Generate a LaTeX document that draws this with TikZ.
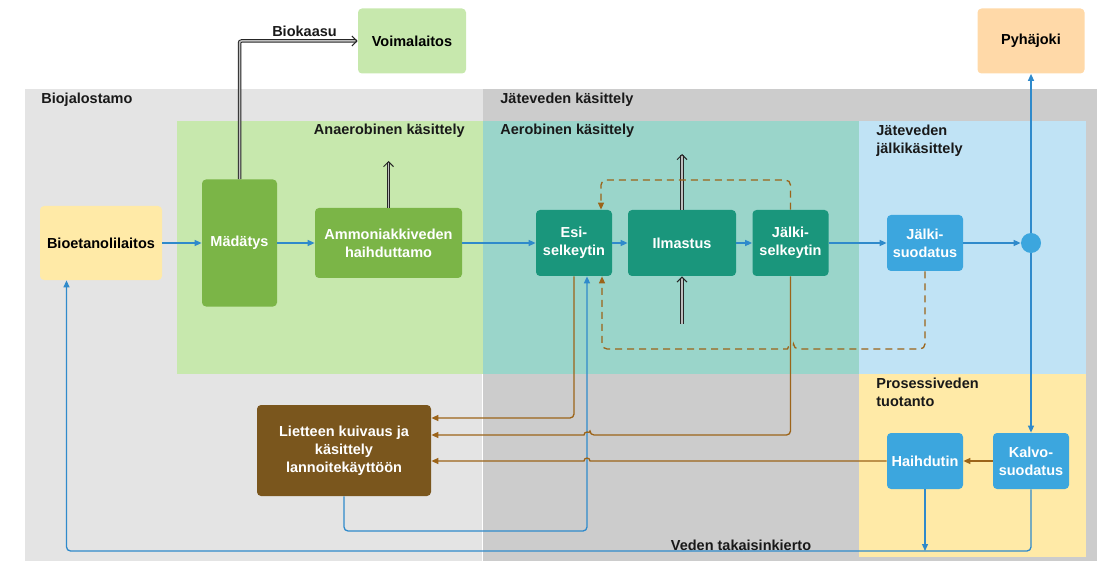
\documentclass[tikz,border=0pt]{standalone}
\usepackage{fontspec}
\setmainfont{Liberation Sans}
\usetikzlibrary{arrows.meta}

\definecolor{zoneGray}{HTML}{E4E4E4}
\definecolor{zoneDark}{HTML}{CCCCCC}
\definecolor{zoneGreen}{HTML}{C7E8AD}
\definecolor{zoneTeal}{HTML}{9AD5CA}
\definecolor{zoneBlue}{HTML}{C0E3F5}
\definecolor{zoneYellow}{HTML}{FFEAA7}
\definecolor{boxGreen}{HTML}{7BB547}
\definecolor{boxTeal}{HTML}{1A967C}
\definecolor{boxBlue}{HTML}{3CA6DE}
\definecolor{boxBrown}{HTML}{7A561D}
\definecolor{boxOrange}{HTML}{FFD9A8}
\definecolor{flowBlue}{HTML}{2F8ACB}
\definecolor{flowBrown}{HTML}{9C6419}

\tikzset{every picture/.style={line width=0.75pt}}

\begin{document}
\begin{tikzpicture}[x=1pt,y=1pt,yscale=-1,xscale=1,
  font=\fontsize{14.5}{18}\selectfont\bfseries,
  unit/.style={rounded corners=4pt, align=center, inner sep=2pt, text=white},
  zonelabel/.style={inner sep=0pt, align=left, text=black!90},
  water/.style={draw=flowBlue, line width=1.3pt, -{Triangle[length=7pt,width=6pt]}},
  sludge/.style={draw=flowBrown, line width=1.3pt, -{Triangle[length=7pt,width=6pt]}},
  gas/.style={draw=black!85, double=black!25, double distance=1.5pt, line width=1pt, -{Straight Barb[length=5pt,width=10pt]}}]
	\useasboundingbox (0,0) rectangle (1097,561);

	%Zones
	\fill [zoneGray] (25,89) rectangle (483,561);
	\fill [zoneDark] (483,89) rectangle (1097,561);
	\fill [zoneGreen] (177,121) rectangle (483,374);
	\fill [zoneTeal] (483,121) rectangle (859,374);
	\fill [zoneBlue] (859,121) rectangle (1086,374);
	\fill [zoneYellow] (859,374) rectangle (1086,557);
	\draw [white, line width=1.5pt] (482.5,374) -- (482.5,561);

	% Text Node
	\node [zonelabel, anchor=west] (tBiojal) at (41,100) {Biojalostamo};
	\node [zonelabel, anchor=west] (tJatev) at (500,100) {Jäteveden käsittely};
	\node [zonelabel, anchor=east] (tAnaer) at (465,131) {Anaerobinen käsittely};
	\node [zonelabel, anchor=west] (tAerob) at (500,131) {Aerobinen käsittely};
	\node [zonelabel, anchor=north west] (tJalkik) at (876,125) {Jäteveden\\jälkikäsittely};
	\node [zonelabel, anchor=north west] (tProsess) at (876,378) {Prosessiveden\\tuotanto};
	\node [zonelabel] (tBiokaasu) at (304.5,31) {Biokaasu};
	\node [zonelabel] (tKierto) at (741,545) {Veden takaisinkierto};

	% Units
	\node [unit, fill=zoneGreen, text=black, minimum width=108pt, minimum height=65pt] (voima) at (412,41) {Voimalaitos};
	\node [unit, fill=boxOrange, text=black, minimum width=107pt, minimum height=65pt] (pyha) at (1031,41) {Pyhäjoki};
	\node [unit, fill=zoneYellow, text=black, minimum width=122pt, minimum height=74pt] (bioet) at (101,243) {Bioetanolilaitos};
	\node [unit, fill=boxGreen, minimum width=75pt, minimum height=127pt] (madat) at (239.5,243) {Mädätys};
	\node [unit, fill=boxGreen, minimum width=147pt, minimum height=70pt] (ammon) at (388.5,243) {Ammoniakkiveden\\haihduttamo};
	\node [unit, fill=boxTeal, minimum width=76pt, minimum height=66pt] (esi) at (574,243) {Esi-\\selkeytin};
	\node [unit, fill=boxTeal, minimum width=108pt, minimum height=66pt] (ilma) at (682,243) {Ilmastus};
	\node [unit, fill=boxTeal, minimum width=76pt, minimum height=66pt] (jalks) at (790.5,243) {Jälki-\\selkeytin};
	\node [unit, fill=boxBlue, minimum width=76pt, minimum height=56pt] (jsuod) at (925,243) {Jälki-\\suodatus};
	\node [circle, fill=boxBlue, minimum size=20pt, inner sep=0pt] (junc) at (1031,243) {};
	\node [unit, fill=boxBrown, minimum width=174pt, minimum height=91pt] (liete) at (344,450.5) {Lietteen kuivaus ja\\käsittely\\lannoitekäyttöön};
	\node [unit, fill=boxBlue, minimum width=76pt, minimum height=56pt] (haihd) at (925,461) {Haihdutin};
	\node [unit, fill=boxBlue, minimum width=76pt, minimum height=56pt] (kalvo) at (1031,461) {Kalvo-\\suodatus};

	\coordinate (lift) at (587,531);
	\coordinate (back) at (66.5,551);
	\coordinate (dashTop) at (601,180);
	\coordinate (gasAmmon) at (388.5,161);
	\coordinate (gasIn) at (682,324);
	\coordinate (gasOut) at (682,154);

	%Gas lines
	\draw [gas, rounded corners=2pt] (madat.north) |- (voima.west);
	\draw [gas] (ammon.north) -- (gasAmmon);
	\draw [gas] (gasIn) -- (ilma.south);
	\draw [gas] (ilma.north) -- (gasOut);

	%Main water line
	\draw [water] (bioet) -- (madat);
	\draw [water] (madat) -- (ammon);
	\draw [water] (ammon) -- (esi);
	\draw [water] (esi) -- (ilma);
	\draw [water] (ilma) -- (jalks);
	\draw [water] (jalks) -- (jsuod);
	\draw [water] (jsuod) -- (junc);
	\draw [water] (junc) -- (pyha);
	\draw [water] (junc) -- (kalvo);

	%Return of water
	\draw [water, rounded corners=4pt] (liete.south) |- (lift) -- (lift |- esi.south);
	\draw [water, rounded corners=4pt] (kalvo.south) |- (back) -- (back |- bioet.south);
	\draw [water] (haihd.south) -- (haihd.south |- back);

	%Sludge lines
	\draw [sludge] (kalvo) -- (haihd);
	\draw [sludge] (haihd.west) -- ([xshift=3pt]lift |- haihd.west) arc [start angle=0, end angle=-180, radius=3] -- (liete.east |- haihd.west);
	\draw [sludge, rounded corners=4pt] (esi.south) |- (liete.east |- 0,418);
	\draw [sludge] (jalks.south) [rounded corners=4pt] |- ([xshift=3pt]lift |- 0,435) [sharp corners] arc [start angle=0, end angle=-180, radius=3] -- (liete.east |- 0,435);

	%Dashed returns
	\draw [sludge, dash pattern=on 7pt off 5pt, rounded corners=5pt] (jalks.north) |- (dashTop) -- (dashTop |- esi.north);
	\draw [sludge, dash pattern=on 7pt off 5pt] (jsuod.south) [rounded corners=5pt] |- ([xshift=3pt]jalks.south |- 0,349) [sharp corners] arc [start angle=0, end angle=-180, radius=3] [rounded corners=5pt] -| ([xshift=28pt]esi.south);

	\end{tikzpicture}
\end{document}
